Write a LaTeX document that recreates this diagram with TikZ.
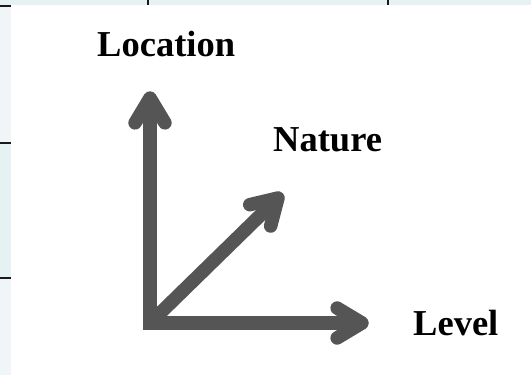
\documentclass[tikz,border=0pt]{standalone}
\usepackage{fontspec}
\setmainfont{Liberation Serif}
\usetikzlibrary{calc}
\definecolor{axisgray}{HTML}{555555}
\definecolor{stripblue}{HTML}{E6F1F3}
\definecolor{strippale}{HTML}{F0F6F8}
\definecolor{rulegray}{HTML}{1A1A1A}
\tikzset{
  axis/.style={draw=axisgray, line width=13.5pt},
  chevron/.style={draw=axisgray, line width=13.5pt, line cap=round, line join=round},
  axislabel/.style={anchor=base west, inner sep=0pt, text=black,
    font=\fontsize{36.5}{40}\selectfont\bfseries},
  tablerule/.style={draw=rulegray, line width=2pt},
}
\begin{document}
\begin{tikzpicture}[x=1pt, y=-1pt]
  % canvas and the table frame around it
  \fill[white] (0,0) rectangle (531,375);
  \useasboundingbox (0,0) rectangle (531,375);
  \fill[stripblue] (0,0) rectangle (531,5);
  \fill[strippale] (0,5) rectangle (11,375);
  \fill[stripblue] (0,143) rectangle (11,278);
  \draw[tablerule] (0,6) -- (11,6);
  \draw[tablerule] (0,143) -- (11,143);
  \draw[tablerule] (0,278) -- (11,278);
  \draw[tablerule] (148,0) -- (148,5);
  \draw[tablerule] (388,0) -- (388,5);

  % axis end points
  \coordinate (O) at (150,323);
  \coordinate (locTip) at (150,98);
  \coordinate (levTip) at (362,323);
  \coordinate (natTip) at (278,198);

  % the three axes
  \draw[axis, line join=miter] (locTip) -- (O) -- (levTip);
  \draw[axis] (O) -- (natTip);

  % arrow heads
  \foreach \t in {locTip, levTip, natTip}{
    \draw[chevron] ($(\t)!29pt!31:(O)$) -- (\t) -- ($(\t)!29pt!-31:(O)$);
  }

  % labels
  \node[axislabel] (loc) at (97,56) {Location};
  \node[axislabel] (nat) at (273,151) {Nature};
  \node[axislabel] (lev) at (413,335) {Level};
\end{tikzpicture}
\end{document}
